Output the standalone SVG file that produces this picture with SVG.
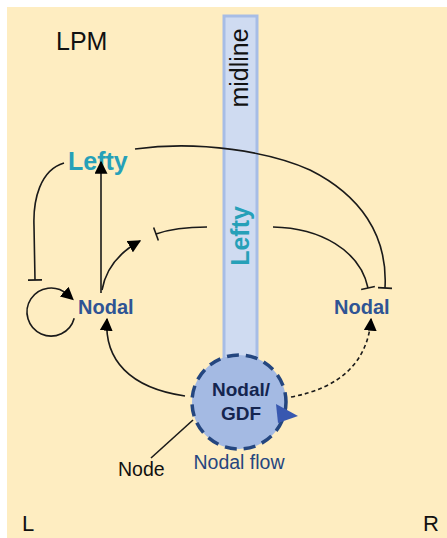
<svg xmlns="http://www.w3.org/2000/svg" width="447" height="538" viewBox="0 0 447 538">
<defs>
<style>
.t{font-family:"Liberation Sans",Arial,sans-serif}
.c{fill:none;stroke:#1a1a1a;stroke-width:1.6}
.teal{fill:#26a0b8;font-weight:bold}
.nod{fill:#2f5494;font-weight:bold;font-size:20px}
</style>
<marker id="ahb" viewBox="0 0 10 10" refX="9" refY="5" markerWidth="13" markerHeight="13" markerUnits="userSpaceOnUse" orient="auto"><path d="M0,0 L10,5 L0,10 Z" fill="#000"/></marker>
<marker id="ahl" viewBox="0 0 10 10" refX="3" refY="5" markerWidth="13" markerHeight="13" markerUnits="userSpaceOnUse" orient="auto"><path d="M0,0 L10,5 L0,10 Z" fill="#000"/></marker>
<marker id="tb" viewBox="0 0 4 14" refX="2" refY="7" markerWidth="4" markerHeight="14" markerUnits="userSpaceOnUse" orient="auto"><path d="M2,0 L2,14" stroke="#1a1a1a" stroke-width="1.6"/></marker>
</defs>
<rect x="7" y="7" width="440" height="531" fill="#feedc1"/>
<g id="midline">
<rect x="224" y="16" width="33" height="345" fill="#cfdbf1" stroke="#a7bde6" stroke-width="3"/>
<text class="t" x="0" y="0" font-size="25" fill="#111" text-anchor="middle" transform="translate(248,68) rotate(-90)">midline</text>
<text class="t teal" x="0" y="0" font-size="25" text-anchor="middle" transform="translate(249,236) rotate(-90)">Lefty</text>
</g>
<g id="lpm"><text class="t" x="56" y="50" font-size="25" fill="#111">LPM</text></g>
<g id="lefty-left"><text class="t teal" x="68" y="170" font-size="25">Lefty</text></g>
<g id="nodal-left"><text class="t nod" x="78" y="314">Nodal</text></g>
<g id="nodal-right"><text class="t nod" x="334" y="314">Nodal</text></g>
<g id="node-gdf">
<circle cx="239" cy="402" r="47" fill="#a4bae3" stroke="#24467f" stroke-width="3.5" stroke-dasharray="12,7"/>
<text class="t" x="241" y="396" font-size="19" font-weight="bold" fill="#14254f" text-anchor="middle">Nodal/</text>
<text class="t" x="241" y="420" font-size="19" font-weight="bold" fill="#14254f" text-anchor="middle">GDF</text>
<path d="M276,404 L298,416 L278,423 Z" fill="#3858b0"/>
</g>
<g id="labels">
<text class="t" x="239" y="469" font-size="19.5" fill="#26457f" text-anchor="middle">Nodal flow</text>
<text class="t" x="118" y="476" font-size="19.5" fill="#111">Node</text>
<text class="t" x="22" y="531" font-size="22" fill="#111">L</text>
<text class="t" x="423" y="531" font-size="22" fill="#111">R</text>
</g>
<g id="connectors">
<path class="c" d="M193,420 L151,458" stroke-width="1.2"/>
<path class="c" d="M64,163 C40,170 33,200 34,226 L35,280" marker-end="url(#tb)"/>
<path class="c" d="M101,293 L101,162" marker-end="url(#ahb)"/>
<path class="c" d="M102,290 C106,268 120,252 140,241" marker-end="url(#ahb)"/>
<path class="c" d="M207,227 C188,227 170,229 156,234" marker-end="url(#tb)"/>
<path class="c" d="M273,227 C320,228 360,250 368,288" marker-end="url(#tb)"/>
<path class="c" d="M135,149 C200,140 270,152 310,170 C360,195 388,235 385,288" marker-end="url(#tb)"/>
<path class="c" d="M185,396 C130,388 104,360 107,319" marker-end="url(#ahb)"/>
<path class="c" d="M291,397 C340,388 368,362 371,319" stroke-dasharray="4,3" marker-end="url(#ahb)"/>
<path class="c" d="M74.2,318.2 A24,24 0 1 1 67.1,294.2" stroke-width="2.4" marker-end="url(#ahl)"/>
</g>
</svg>
